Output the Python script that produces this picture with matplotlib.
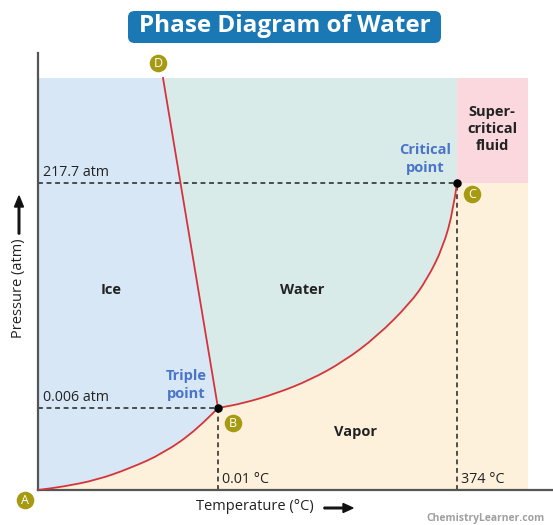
import matplotlib
matplotlib.use("Agg")
import matplotlib.pyplot as plt
from matplotlib.patches import Rectangle, FancyBboxPatch, PathPatch, FancyArrow
from matplotlib.path import Path
import numpy as np

# ---------------- data (schematic units: x = temperature axis, y = pressure axis) -------------
triple_point = (180.0, 82.0)          # 0.01 °C, 0.006 atm
critical_point = (419.0, 307.0)       # 374 °C, 217.7 atm
melt_top = (125.0, 412.0)             # top end of melting line (D)
plot_top = 412.0
plot_right = 490.0

sub_x = [0.0, 25.0, 58.7, 92.0, 125.3, 158.7, 180.0]
sub_y = [0.0, 3.3, 10.0, 21.7, 36.7, 60.0, 82.0]

vap_x = [180.0, 205.3, 238.7, 272.0, 305.3, 338.7, 372.0, 388.7, 405.3, 415.3, 419.0]
vap_y = [82.0, 86.7, 96.7, 110.0, 128.3, 153.3, 186.7, 210.0, 243.3, 280.0, 307.0]

pressure_labels = ["217.7 atm", "0.006 atm"]
temperature_labels = ["0.01 °C", "374 °C"]
region_names = ["Ice", "Water", "Vapor"]

# ---------------- figure ----------------
W, H = 553, 525
fig = plt.figure(figsize=(W / 100, H / 100), dpi=100)
ax = fig.add_axes([38 / W, 1 - 490 / H, (553 - 38) / W, (490 - 53) / H])
ax.set_xlim(0, 515)
ax.set_ylim(0, 437)
for s in ["top", "right"]:
    ax.spines[s].set_visible(False)
for s in ["left", "bottom"]:
    ax.spines[s].set_color("#555555")
    ax.spines[s].set_linewidth(1.6)
ax.set_xticks([])
ax.set_yticks([])
ax.patch.set_alpha(0)

FONT = "Open Sans"
c_ice = "#d8e7f6"
c_water = "#d9ebe9"
c_vapor = "#fdf1dc"
c_super = "#fad8de"
c_red = "#d5343b"
c_blue_txt = "#4a74c9"
c_badge = "#a69a12"


def smooth(xs, ys):
    """Smooth quadratic-spline path through the read points (matplotlib Bezier segments)."""
    p = list(zip(xs, ys))
    verts = [p[0], ((p[0][0] + p[1][0]) / 2, (p[0][1] + p[1][1]) / 2)]
    codes = [Path.MOVETO, Path.LINETO]
    for i in range(1, len(p) - 2):
        mid = ((p[i][0] + p[i + 1][0]) / 2, (p[i][1] + p[i + 1][1]) / 2)
        verts += [p[i], mid]
        codes += [Path.CURVE3, Path.CURVE3]
    verts += [p[-2], p[-1]]
    codes += [Path.CURVE3, Path.CURVE3]
    return verts, codes


sub_v, sub_c = smooth(sub_x, sub_y)
vap_v, vap_c = smooth(vap_x, vap_y)

# Ice region
v = sub_v + [melt_top, (0, plot_top), (0, 0)]
c = sub_c + [Path.LINETO, Path.LINETO, Path.CLOSEPOLY]
ax.add_patch(PathPatch(Path(v, c), fc=c_ice, ec="none", zorder=1))
# Water region
v = vap_v + [(critical_point[0], plot_top), melt_top, (0, 0)]
c = vap_c + [Path.LINETO, Path.LINETO, Path.CLOSEPOLY]
ax.add_patch(PathPatch(Path(v, c), fc=c_water, ec="none", zorder=1))
# Vapor region
v = sub_v + vap_v + [(plot_right, critical_point[1]), (plot_right, 0), (0, 0)]
c = sub_c + [Path.LINETO] + vap_c[1:] + [Path.LINETO, Path.LINETO, Path.CLOSEPOLY]
ax.add_patch(PathPatch(Path(v, c), fc=c_vapor, ec="none", zorder=1))
# Supercritical
ax.add_patch(Rectangle((critical_point[0], critical_point[1]), plot_right - critical_point[0],
                       plot_top - critical_point[1], fc=c_super, ec="none", zorder=1))

# phase boundaries
ax.add_patch(PathPatch(Path(sub_v, sub_c), fc="none", ec=c_red, lw=1.3, zorder=3))
ax.add_patch(PathPatch(Path(vap_v, vap_c), fc="none", ec=c_red, lw=1.3, zorder=3))
ax.plot([triple_point[0], melt_top[0]], [triple_point[1], melt_top[1]], color=c_red, lw=1.3, zorder=3)

# dashed guide lines
dash = dict(color="#222222", lw=1.1, ls=(0, (3.2, 2.4)), zorder=2)
ax.plot([0, critical_point[0]], [critical_point[1]] * 2, **dash)
ax.plot([0, triple_point[0]], [triple_point[1]] * 2, **dash)
ax.plot([triple_point[0]] * 2, [0, triple_point[1]], **dash)
ax.plot([critical_point[0]] * 2, [0, critical_point[1]], **dash)

# points
ax.scatter([triple_point[0], critical_point[0]], [triple_point[1], critical_point[1]],
           s=26, color="black", zorder=5)

# value labels
lab = dict(fontsize=10.3, family=FONT, color="#222222", ha="left", va="bottom")
ax.text(5, critical_point[1] + 3, pressure_labels[0], **lab)
ax.text(5, triple_point[1] + 3, pressure_labels[1], **lab)
ax.text(triple_point[0] + 4, 3, temperature_labels[0], **lab)
ax.text(critical_point[0] + 4, 3, temperature_labels[1], **lab)

# region names
reg = dict(fontsize=10.5, family=FONT, weight="bold", color="#222222", ha="center", va="center")
ax.text(111 - 38, 490 - 290, region_names[0], **reg)
ax.text(302 - 38, 490 - 290, region_names[1], **reg)
ax.text(356 - 38, 490 - 432, region_names[2], **reg)
ax.text(492 - 38, 490 - 129, "Super-\ncritical\nfluid", linespacing=1.3, **reg)
blue = dict(reg, color=c_blue_txt)
ax.text(186 - 38, 490 - 385, "Triple\npoint", linespacing=1.3, **blue)
ax.text(425 - 38, 490 - 159, "Critical\npoint", linespacing=1.3, **blue)


# letter badges
def badge(px, py, letter):
    x, y = px - 38, 490 - py
    ax.scatter([x], [y], s=160, color=c_badge, zorder=6, clip_on=False, linewidths=0)
    ax.text(x, y - 0.5, letter, fontsize=9, family=FONT, color="white", ha="center",
            va="center", zorder=7, clip_on=False)


badge(25, 500, "A")
badge(233, 423, "B")
badge(472, 194, "C")
badge(158, 63, "D")

# axis labels with arrows
fig.text(255 / W, 1 - 507 / H, "Temperature (°C)", fontsize=10.5, family=FONT, color="#222222",
         ha="center", va="center")
fig.patches.append(FancyArrow(324 / W, 1 - 508 / H, 29 / W, 0,
                   width=1.6 / H, head_width=9 / H, head_length=10 / W,
                   length_includes_head=True, color="#111111", transform=fig.transFigure))
fig.text(19 / W, 1 - 288 / H, "Pressure (atm)", fontsize=10.5, family=FONT, color="#222222",
         ha="center", va="center", rotation=90)
fig.patches.append(FancyArrow(19 / W, 1 - 234 / H, 0, 38 / H,
                   width=1.6 / W, head_width=9 / W, head_length=11 / H,
                   length_includes_head=True, color="#111111", transform=fig.transFigure))

# title
fig.patches.append(FancyBboxPatch((128 / W, 1 - 43 / H), (441 - 128) / W, 32 / H,
                                  boxstyle="round,pad=0,rounding_size=0.012",
                                  fc="#1a79b5", ec="none", transform=fig.transFigure))
fig.text(284.5 / W, 1 - 26.5 / H, "Phase Diagram of Water", fontsize=17.5, family=FONT,
         weight="bold", color="white", ha="center", va="center")

# watermark
fig.text(545 / W, 1 - 519 / H, "ChemistryLearner.com", fontsize=7.5, family=FONT, weight="bold",
         color="#a0a0a0", ha="right", va="center")

fig.savefig("out.png", dpi=100)
